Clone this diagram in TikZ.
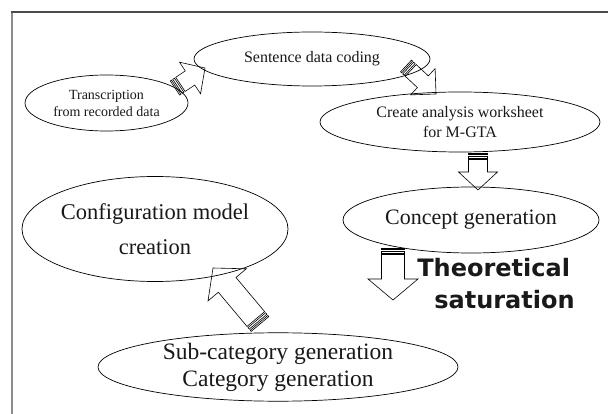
\documentclass[tikz,border=0pt]{standalone}
\usepackage{fontspec}
\setmainfont{Liberation Serif}
\newfontfamily\satfont{DejaVu Sans}
\usetikzlibrary{calc,shapes.geometric}
\tikzset{
  ell/.style={draw, ellipse, line width=0.7pt, inner sep=0pt, align=center, text=black!90},
  arrowline/.style={draw, line width=0.6pt, line join=miter},
  frameleft/.style={draw=black!45, line width=2pt},
  frametop/.style={draw=black!70, line width=1.2pt},
}
\newcommand\stripedarrow[5]{%
  \path let \p1=($(#2)-(#1)$) in \pgfextra{%
    \pgfmathsetmacro\tmpang{atan2(\y1,\x1)}%
    \pgfmathsetmacro\tmplen{veclen(\x1,\y1)}%
    \xdef\arrang{\tmpang}\xdef\arrlen{\tmplen}};
  \begin{scope}[shift={(#1)},rotate=\arrang]
    \draw[arrowline] (0pt,-#3pt) rectangle (1.5pt,#3pt);
    \draw[arrowline] (3pt,-#3pt) rectangle (5pt,#3pt);
    \draw[arrowline] (6.5pt,-#3pt) -- ({\arrlen pt-#5pt},-#3pt) -- ({\arrlen pt-#5pt},-#4pt)
      -- (\arrlen pt,0pt) -- ({\arrlen pt-#5pt},#4pt) -- ({\arrlen pt-#5pt},#3pt) -- (6.5pt,#3pt) -- cycle;
  \end{scope}}
\begin{document}
\begin{tikzpicture}[x=1pt,y=-1pt]
\useasboundingbox (0,0) rectangle (608,414);
\fill[white] (0,0) rectangle (608,414);
% frame
\draw[frameleft] (12,414) -- (12,12);
\draw[frametop] (11,12) -- (608,12);

% nodes
\node[ell, minimum width=163pt, minimum height=56pt, font=\fontsize{14}{17}\selectfont] (tr) at (106.5,103) {Transcription\\from recorded data};
\node[ell, minimum width=236pt, minimum height=54pt, font=\fontsize{16}{19}\selectfont] (sd) at (312,59) {Sentence data coding};
\node[ell, minimum width=280pt, minimum height=60pt, font=\fontsize{16}{20}\selectfont] (ca) at (460,122) {Create analysis worksheet\\for M-GTA};
\node[ell, minimum width=256pt, minimum height=66pt, font=\fontsize{22}{26}\selectfont] (cg) at (471,220) {Concept generation};
\node[ell, minimum width=245pt, minimum height=105pt, font=\fontsize{22.5}{35}\selectfont] (cm) at (155,229) {Configuration model\\creation};
\node[ell, minimum width=360pt, minimum height=68pt, font=\fontsize{23.5}{27}\selectfont] (sc) at (278,367) {Sub-category generation\\Category generation};
\node[align=left, font=\satfont\bfseries\fontsize{24}{32}\selectfont, text=black!90, inner sep=0pt] (ts) at (496,284) {Theoretical\\\hspace*{17pt}saturation};

% arrow end points
\coordinate (a1t) at (175,88);  \coordinate (a1h) at (205,68);
\coordinate (a2t) at (406,66);  \coordinate (a2h) at (436,94);
\coordinate (a3t) at (478,153); \coordinate (a3h) at (478,190);
\coordinate (a4t) at (393,248); \coordinate (a4h) at (393,300);
\coordinate (a5t) at (260,324); \coordinate (a5h) at (213,268);

\stripedarrow{a1t}{a1h}{8.5}{19}{18}
\stripedarrow{a2t}{a2h}{8}{18}{18}
\stripedarrow{a3t}{a3h}{9.5}{19.5}{18}
\stripedarrow{a4t}{a4h}{11.5}{25}{21}
\stripedarrow{a5t}{a5h}{11.5}{25}{22}
\end{tikzpicture}
\end{document}
